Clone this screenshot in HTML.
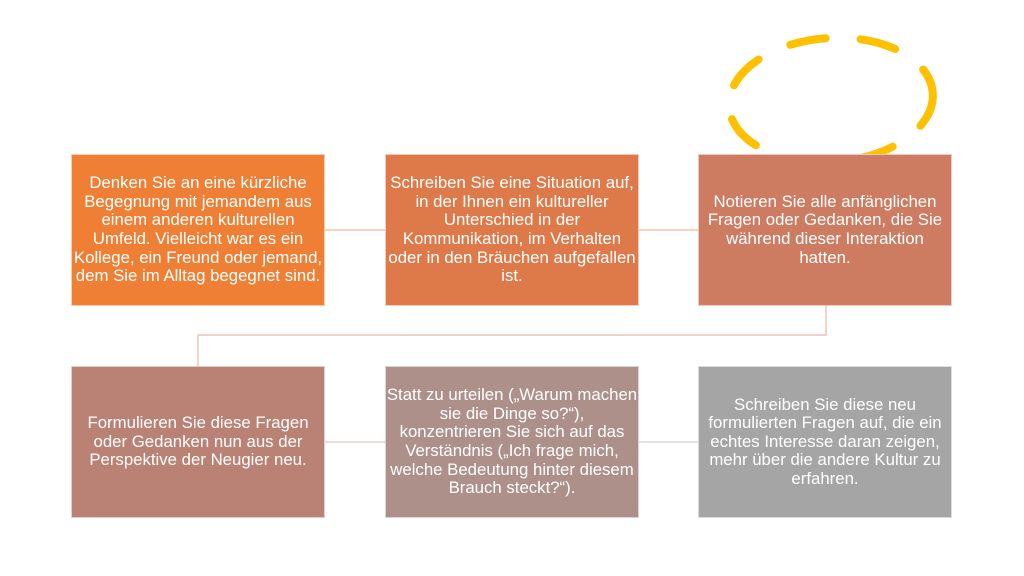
<!DOCTYPE html>
<html><head><meta charset="utf-8"><style>
body{margin:0;width:1024px;height:576px;background:#fff;position:relative;overflow:hidden;font-family:"Liberation Sans",Arial,sans-serif}
.b{position:absolute;width:252px;height:150px;border:1px solid rgba(255,255,255,0.6);display:flex;align-items:center;justify-content:center;text-align:center;color:#fff;font-size:16.8px;line-height:18.6px;box-sizing:content-box;white-space:nowrap}
.b span{display:block}
</style></head><body>
<svg width="1024" height="576" style="position:absolute;left:0;top:0">
<g stroke="#F0B89A" stroke-width="1.2" fill="none">
<line x1="325" y1="230" x2="385" y2="230"/>
<line x1="639" y1="230" x2="698" y2="230"/>
<polyline points="826,306 826,335 198,335 198,366" stroke="#E8B8A8"/>
<line x1="325" y1="442" x2="385" y2="442" stroke="#E0C8C0"/>
<line x1="639" y1="442" x2="698" y2="442" stroke="#D8D0CE"/>
</g>
<ellipse cx="831" cy="100" rx="102" ry="62" fill="none" stroke="#FFC000" stroke-width="8" stroke-linecap="round" stroke-dasharray="36 35" transform="rotate(-4 831 100)"/>
</svg>
<div class="b" style="left:71px;top:154px;background:#EE7F35"><span>Denken Sie an eine kürzliche<br>Begegnung mit jemandem aus<br>einem anderen kulturellen<br>Umfeld. Vielleicht war es ein<br>Kollege, ein Freund oder jemand,<br>dem Sie im Alltag begegnet sind.</span></div>
<div class="b" style="left:385px;top:154px;background:#DE7A4A"><span>Schreiben Sie eine Situation auf,<br>in der Ihnen ein kultureller<br>Unterschied in der<br>Kommunikation, im Verhalten<br>oder in den Bräuchen aufgefallen<br>ist.</span></div>
<div class="b" style="left:698px;top:154px;background:#CD7C62"><span>Notieren Sie alle anfänglichen<br>Fragen oder Gedanken, die Sie<br>während dieser Interaktion<br>hatten.</span></div>
<div class="b" style="left:71px;top:366px;background:#BA8275"><span>Formulieren Sie diese Fragen<br>oder Gedanken nun aus der<br>Perspektive der Neugier neu.</span></div>
<div class="b" style="left:385px;top:366px;background:#AE908B"><span>Statt zu urteilen („Warum machen<br>sie die Dinge so?“),<br>konzentrieren Sie sich auf das<br>Verständnis („Ich frage mich,<br>welche Bedeutung hinter diesem<br>Brauch steckt?“).</span></div>
<div class="b" style="left:698px;top:366px;background:#A5A5A5"><span>Schreiben Sie diese neu<br>formulierten Fragen auf, die ein<br>echtes Interesse daran zeigen,<br>mehr über die andere Kultur zu<br>erfahren.</span></div>
</body></html>
